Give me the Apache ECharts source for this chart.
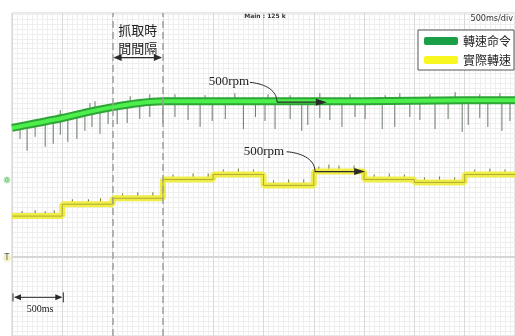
<!DOCTYPE html>
<html><head><meta charset="utf-8">
<script src="https://cdn.jsdelivr.net/npm/echarts@6/dist/echarts.min.js"></script>
<style>html,body{margin:0;padding:0;background:#fff}#c{width:515px;height:336px}</style>
</head><body><div id="c"></div>
<script>
// time in ms (500 ms / div), level in screen units
const cmdTime  = [0,250,500,750,1000,1250,1500,2000,2500,3000,3500,4000,4500,5000];
const cmdLevel = [130,135,140,146,151,155,157,157,157,157,157,157.5,158,158];
const actTime  = [0,500,1000,1500,2000,2500,3000,3500,4000,4500,5000];
const actLevel = [41,53,59,78,83,72,86,78,75,83,83];
// downward noise spikes on the command trace: time and tip level
const cmdSpikeDownTime = [80,150,230,330,410,480,555,645,725,795,875,955,1045,1145,1270,1370,1500,1620,1750,1870,1990,2120,2300,2420,2515,2615,2765,2880,2940,3060,3160,3280,3410,3510,3680,3805,3955,4055,4205,4335,4475,4535,4650,4730,4870,4950];
const cmdSpikeDownTip  = [119,107,121,111,114,123,116,119,127,131,124,134,134,135,139,141,135,141,138,131,137,139,129,141,137,129,139,127,133,140,138,131,141,139,129,131,141,138,129,139,126,133,140,131,127,137];
// upward noise spikes on the command trace
const cmdSpikeUpTime = [480,775,825,1175,1370,1620,1920,2215,2545,2765,3060,3360,3710,3855,4155,4405,4650,4850];
const cmdSpikeUpTip  = [148,155,157,162,164,164,163,165,164,163,165,164,163,165,164,166,164,165];
// noise spikes on the actual speed trace
const actSpikeTime = [100,230,330,420,600,760,880,1100,1250,1400,1600,1800,1950,2100,2250,2400,2600,2750,2900,3050,3150,3250,3400,3600,3750,3900,4100,4250,4400,4600,4750,4900];
const actSpikeTip  = [46,47,46,47,58,58,59,64,65,65,83,84,84,88,89,88,77,78,78,91,93,92,92,83,84,83,80,81,80,88,89,88];

const NAME_CMD = '轉速命令', NAME_ACT = '實際轉速';

function interp(ts, vs, t){
  for (let i=0;i<ts.length-1;i++){ if (t>=ts[i] && t<=ts[i+1]) return vs[i]+(vs[i+1]-vs[i])*(t-ts[i])/(ts[i+1]-ts[i]); }
  return vs[vs.length-1];
}
function stepVal(ts, vs, t){ let v=vs[0]; for(let i=0;i<ts.length;i++){ if(t>=ts[i]) v=vs[i]; } return v; }

const cmdData = cmdTime.map((t,i)=>[t,cmdLevel[i]]);
const actData = actTime.map((t,i)=>[t,actLevel[i]]);
const spikeData = [];
cmdSpikeDownTime.forEach((t,i)=>spikeData.push([t, interp(cmdTime,cmdLevel,t), cmdSpikeDownTip[i]]));
cmdSpikeUpTime.forEach((t,i)=>spikeData.push([t, interp(cmdTime,cmdLevel,t), cmdSpikeUpTip[i]]));
const actSpikeData = actSpikeTime.map((t,i)=>[t, stepVal(actTime,actLevel,t), actSpikeTip[i]]);

function spikeRender(color){
  return function(params, api){
    const a = api.coord([api.value(0), api.value(1)]);
    const b = api.coord([api.value(0), api.value(2)]);
    return {type:'line', shape:{x1:a[0],y1:a[1],x2:b[0],y2:b[1]}, style:{stroke:color, lineWidth:1}};
  };
}

const chart = echarts.init(document.getElementById('c'), null, {renderer:'canvas'});
const option = {
  animation:false,
  backgroundColor:'#fff',
  grid:{left:12, top:13, right:0, bottom:-3, show:true, backgroundColor:'#fff', borderColor:'#cccccc', borderWidth:1},
  xAxis:{type:'value', min:0, max:5000, interval:500,
    axisLine:{show:false}, axisTick:{show:false}, axisLabel:{show:false},
    splitLine:{show:true, lineStyle:{color:'#d9d9d9', width:1}},
    minorTick:{show:false, splitNumber:10},
    minorSplitLine:{show:true, lineStyle:{color:'#eeeeee', width:1}}},
  yAxis:{type:'value', min:-80, max:246, interval:5,
    axisLine:{show:false}, axisTick:{show:false}, axisLabel:{show:false},
    splitLine:{show:true, lineStyle:{color:'#eeeeee', width:1}}},
  legend:{left:418, top:30, orient:'vertical', backgroundColor:'#fff', borderColor:'#555', borderWidth:1,
    padding:[5,3,4,6], itemGap:7, itemWidth:34, itemHeight:8, icon:'roundRect', selectedMode:false,
    itemStyle:{borderWidth:0},
    textStyle:{fontFamily:'Noto Sans CJK TC', fontSize:12, color:'#222'},
    data:[{name:NAME_CMD, itemStyle:{color:'#1b9f46', borderWidth:0}}, {name:NAME_ACT, itemStyle:{color:'#f8f820', borderWidth:0}}]},
  series:[
    {type:'line', name:'grid-mark', data:[], silent:true,
      markLine:{silent:true, symbol:'none', label:{show:false}, animation:false,
        data:[
          {yAxis:0, lineStyle:{color:'#d6d6d6', width:2, type:'solid'}},
          {xAxis:1000, lineStyle:{color:'#a0a0a0', width:1.5, type:[7,4]}},
          {xAxis:1500, lineStyle:{color:'#a0a0a0', width:1.5, type:[7,4]}}
        ]}},
    {type:'custom', name:'cmd-noise', renderItem:spikeRender('#6a786a'), data:spikeData, encode:{x:0,y:[1,2]}, z:2, silent:true},
    {type:'line', name:NAME_CMD, data:cmdData, symbol:'none', smooth:0.3, z:3, silent:true,
      lineStyle:{color:'#2ea436', width:8}, itemStyle:{color:'#1b9f46'}},
    {type:'line', name:'cmd-core', data:cmdData, symbol:'none', smooth:0.3, z:4, silent:true,
      lineStyle:{color:'#4cef4c', width:4}},
    {type:'custom', name:'act-noise', renderItem:spikeRender('#7a7530'), data:actSpikeData, encode:{x:0,y:[1,2]}, z:2, silent:true},
    {type:'line', name:NAME_ACT, data:actData, step:'end', symbol:'none', z:3, silent:true,
      lineStyle:{color:'#efed46', width:6}, itemStyle:{color:'#f8f820'}},
    {type:'line', name:'act-core', data:actData, step:'end', symbol:'none', z:4, silent:true,
      lineStyle:{color:'#6f6b28', width:1, opacity:0.5}}
  ]
};
chart.setOption(option);

// annotations in data coordinates, converted to pixels
const P = (t,v)=>chart.convertToPixel({gridIndex:0},[t,v]);
const ink = '#2a2a2a';
function arrowHead(tip, dir, len, half){
  return {type:'polygon', z:20, shape:{points:[[tip[0],tip[1]],[tip[0]-dir*len,tip[1]-half],[tip[0]-dir*len,tip[1]+half]]}, style:{fill:ink}};
}
function textAt(p, s, font, extra){
  return Object.assign({type:'text', z:20, x:p[0], y:p[1], style:{text:s, font:font, fill:'#222', align:'center', verticalAlign:'middle'}}, extra||{});
}
const g = [];
g.push(textAt(P(1250,229),'抓取時','13px "Noto Sans CJK TC"'));
g.push(textAt(P(1250,211),'間間隔','13px "Noto Sans CJK TC"'));
(function(){const a=P(1000,201), b=P(1500,201);
  g.push({type:'line', z:20, shape:{x1:a[0]+2,y1:a[1],x2:b[0]-2,y2:b[1]}, style:{stroke:ink, lineWidth:1.2}});
  g.push(arrowHead([a[0]+1,a[1]],-1,8,3.5)); g.push(arrowHead([b[0]-1,b[1]],1,8,3.5));})();
g.push(textAt(P(2157,177),'500rpm','13px "Liberation Serif"'));
(function(){const s=P(2365,176), h=P(2480,175), e=P(2634,156), c2=P(2634,170), f=P(3130,156);
  g.push({type:'bezierCurve', z:20, shape:{x1:s[0],y1:s[1],x2:e[0],y2:e[1],cpx1:h[0],cpy1:h[1],cpx2:c2[0],cpy2:c2[1]}, style:{stroke:ink, lineWidth:1, fill:null}});
  g.push({type:'line', z:20, shape:{x1:e[0],y1:e[1],x2:f[0]-8,y2:f[1]}, style:{stroke:ink, lineWidth:1.3}});
  g.push(arrowHead(f,1,11,3.5));})();
g.push(textAt(P(2505,106),'500rpm','13px "Liberation Serif"'));
(function(){const s=P(2730,106), h=P(2850,105), e=P(3012,86), c2=P(3012,100), f=P(3510,86);
  g.push({type:'bezierCurve', z:20, shape:{x1:s[0],y1:s[1],x2:e[0],y2:e[1],cpx1:h[0],cpy1:h[1],cpx2:c2[0],cpy2:c2[1]}, style:{stroke:ink, lineWidth:1, fill:null}});
  g.push({type:'line', z:20, shape:{x1:e[0],y1:e[1],x2:f[0]-8,y2:f[1]}, style:{stroke:ink, lineWidth:1.3}});
  g.push(arrowHead(f,1,11,3.5));})();
(function(){const a=P(10,-41), b=P(510,-41);
  g.push({type:'line', z:20, shape:{x1:a[0]+2,y1:a[1],x2:b[0]-2,y2:b[1]}, style:{stroke:ink, lineWidth:1}});
  g.push(arrowHead([a[0]+1,a[1]],-1,7,3)); g.push(arrowHead([b[0]-1,b[1]],1,7,3));
  g.push({type:'line', z:20, shape:{x1:b[0],y1:b[1]-5,x2:b[0],y2:b[1]+5}, style:{stroke:ink, lineWidth:1}});
  g.push({type:'line', z:20, shape:{x1:a[0],y1:a[1]-4,x2:a[0],y2:a[1]+4}, style:{stroke:ink, lineWidth:1}});})();
g.push(textAt(P(278,-53),'500ms','10px "Liberation Serif"'));
g.push({type:'text', z:20, x:265, y:16, style:{text:'Main : 125 k', font:'bold 6px "DejaVu Sans"', fill:'#333', align:'center', verticalAlign:'middle'}});
g.push({type:'text', z:20, x:513, y:19, style:{text:'500ms/div', font:'9px "DejaVu Sans Condensed"', fill:'#333', align:'right', verticalAlign:'middle'}});
g.push({type:'circle', z:20, shape:{cx:7, cy:180, r:3.5}, style:{fill:'#bfe8bf'}});
g.push({type:'text', z:21, x:7, y:180, style:{text:'0', font:'6px "DejaVu Sans"', fill:'#4caf50', align:'center', verticalAlign:'middle'}});
g.push({type:'circle', z:20, shape:{cx:7, cy:258, r:4}, style:{fill:'#f4f2c8'}});
g.push({type:'text', z:21, x:7, y:258, style:{text:'T', font:'8px "DejaVu Sans"', fill:'#555', align:'center', verticalAlign:'middle'}});
chart.setOption({graphic:g});
</script></body></html>
